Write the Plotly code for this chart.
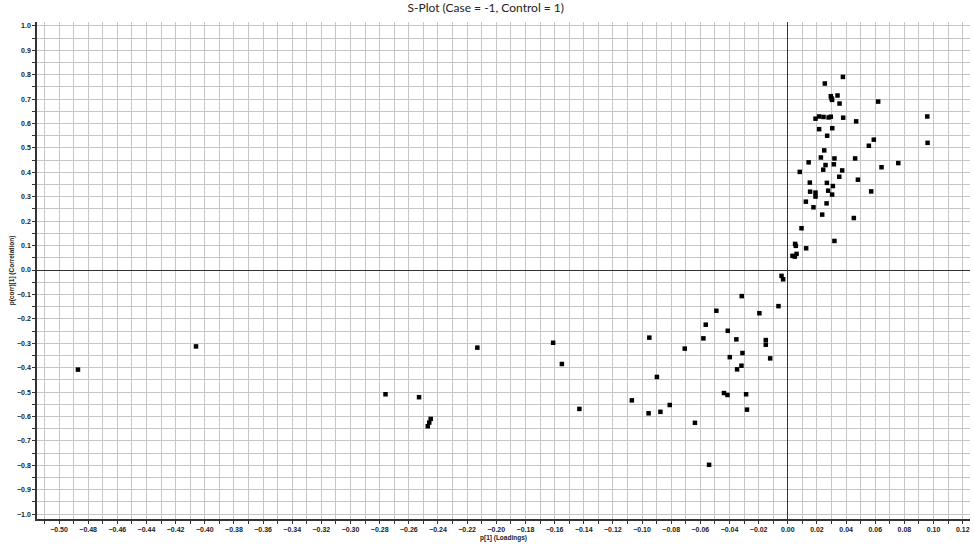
import plotly.graph_objects as go

# p[1] (Loadings) values
x_loadings = [
    -0.487, -0.406, -0.276, -0.253, -0.245, -0.246, -0.247, -0.213, -0.161, -0.155,
    -0.143, -0.107, -0.0955, -0.095, -0.0898, -0.0874, -0.081, -0.0707, -0.0637, -0.0579,
    -0.0563, -0.054, -0.049, -0.0438, -0.0414, -0.0412, -0.0398, -0.0353, -0.0348, -0.0318,
    -0.0316, -0.0311, -0.0286, -0.028, -0.0195, -0.0151, -0.0151, -0.0121, -0.0064, -0.0043,
    -0.0032,
    0.0032, 0.0048, 0.006, 0.005, 0.0055, 0.0126, 0.0094, 0.032, 0.0236, 0.0453,
    0.0176, 0.0266, 0.0124, 0.019, 0.0304, 0.0153, 0.019, 0.0277, 0.0572, 0.0309,
    0.0268, 0.0151, 0.0481, 0.0353, 0.0082, 0.0373, 0.0243, 0.0316, 0.0259, 0.0643,
    0.0758, 0.0143, 0.032, 0.0462, 0.0227, 0.025, 0.0556, 0.059, 0.0959, 0.027,
    0.0305, 0.0215, 0.0469, 0.019, 0.0215, 0.0245, 0.028, 0.0295, 0.038, 0.0957,
    0.0355, 0.062, 0.0295, 0.0341, 0.030, 0.0304, 0.0254, 0.0378,
]

# p(corr)[1] (Correlation) values
y_corr = [
    -0.408, -0.313, -0.509, -0.521, -0.610, -0.625, -0.640, -0.318, -0.298, -0.385,
    -0.569, -0.534, -0.587, -0.277, -0.438, -0.581, -0.553, -0.322, -0.626, -0.280,
    -0.224, -0.798, -0.167, -0.504, -0.512, -0.249, -0.357, -0.284, -0.407, -0.392,
    -0.107, -0.340, -0.509, -0.572, -0.177, -0.287, -0.306, -0.362, -0.148, -0.024,
    -0.038,
    0.058, 0.055, 0.066, 0.107, 0.099, 0.089, 0.171, 0.119, 0.227, 0.213,
    0.257, 0.273, 0.280, 0.301, 0.309, 0.321, 0.317, 0.325, 0.322, 0.344,
    0.357, 0.358, 0.370, 0.382, 0.402, 0.408, 0.411, 0.433, 0.430, 0.421,
    0.438, 0.441, 0.457, 0.457, 0.461, 0.490, 0.509, 0.534, 0.521, 0.550,
    0.581, 0.577, 0.609, 0.620, 0.629, 0.627, 0.625, 0.628, 0.624, 0.629,
    0.682, 0.690, 0.712, 0.715, 0.703, 0.697, 0.764, 0.791,
]

title_text = "S-Plot (Case = -1, Control = 1)"
x_title = "p[1] (Loadings)"
y_title = "p(corr)[1] (Correlation)"

grid_col = "#c6c6c6"
axis_col = "#333333"
tick_font = dict(family="Liberation Sans, Arial", size=7, color="#222222", weight="bold")

fig = go.Figure()
fig.add_trace(go.Scatter(
    x=x_loadings, y=y_corr, mode="markers",
    marker=dict(symbol="square", size=4.5, color="black", line=dict(width=0)),
    hoverinfo="x+y", showlegend=False,
))

fig.update_layout(
    width=974, height=544,
    margin=dict(l=37, r=4, t=22, b=25),
    paper_bgcolor="white", plot_bgcolor="white",
    title=dict(text=title_text, x=0.481, xref="paper", xanchor="center",
               yref="container", y=0.993, yanchor="top",
               font=dict(family="Lato, Open Sans, sans-serif", size=12, color="#222222")),
    xaxis=dict(
        range=[-0.5151, 0.125], dtick=0.02, tick0=0, tickformat=".2f",
        showgrid=True, gridcolor=grid_col, gridwidth=1.4,
        zeroline=True, zerolinecolor=axis_col, zerolinewidth=1,
        showline=True, linecolor=axis_col, linewidth=1.5,
        ticks="outside", ticklen=3, tickcolor=axis_col, tickwidth=1,
        minor=dict(dtick=0.01, tick0=0, showgrid=True, gridcolor=grid_col, gridwidth=1.4,
                   ticks="outside", ticklen=3, tickcolor=axis_col),
        tickfont=tick_font,
        title=dict(text=x_title, standoff=3,
                   font=dict(family="Liberation Sans, Arial", size=6.5, color="#222222", weight="bold")),
    ),
    yaxis=dict(
        range=[-1.02, 1.016], dtick=0.1, tick0=0, tickformat=".1f",
        showgrid=True, gridcolor=grid_col, gridwidth=1.4,
        zeroline=True, zerolinecolor=axis_col, zerolinewidth=1,
        showline=True, linecolor=axis_col, linewidth=1.5,
        ticks="outside", ticklen=3, tickcolor=axis_col, tickwidth=1,
        minor=dict(dtick=0.05, tick0=0, showgrid=True, gridcolor=grid_col, gridwidth=1.4,
                   ticks="outside", ticklen=3, tickcolor=axis_col),
        tickfont=tick_font,
        title=dict(text=y_title, standoff=2,
                   font=dict(family="Liberation Sans, Arial", size=6.5, color="#222222", weight="bold")),
    ),
)

# remove the page's default body margin so the 974x544 figure fills the window exactly
fig.write_html("out.html",
               config={"displayModeBar": False},
               post_script="document.body.style.margin='0';document.body.style.overflow='hidden';")
